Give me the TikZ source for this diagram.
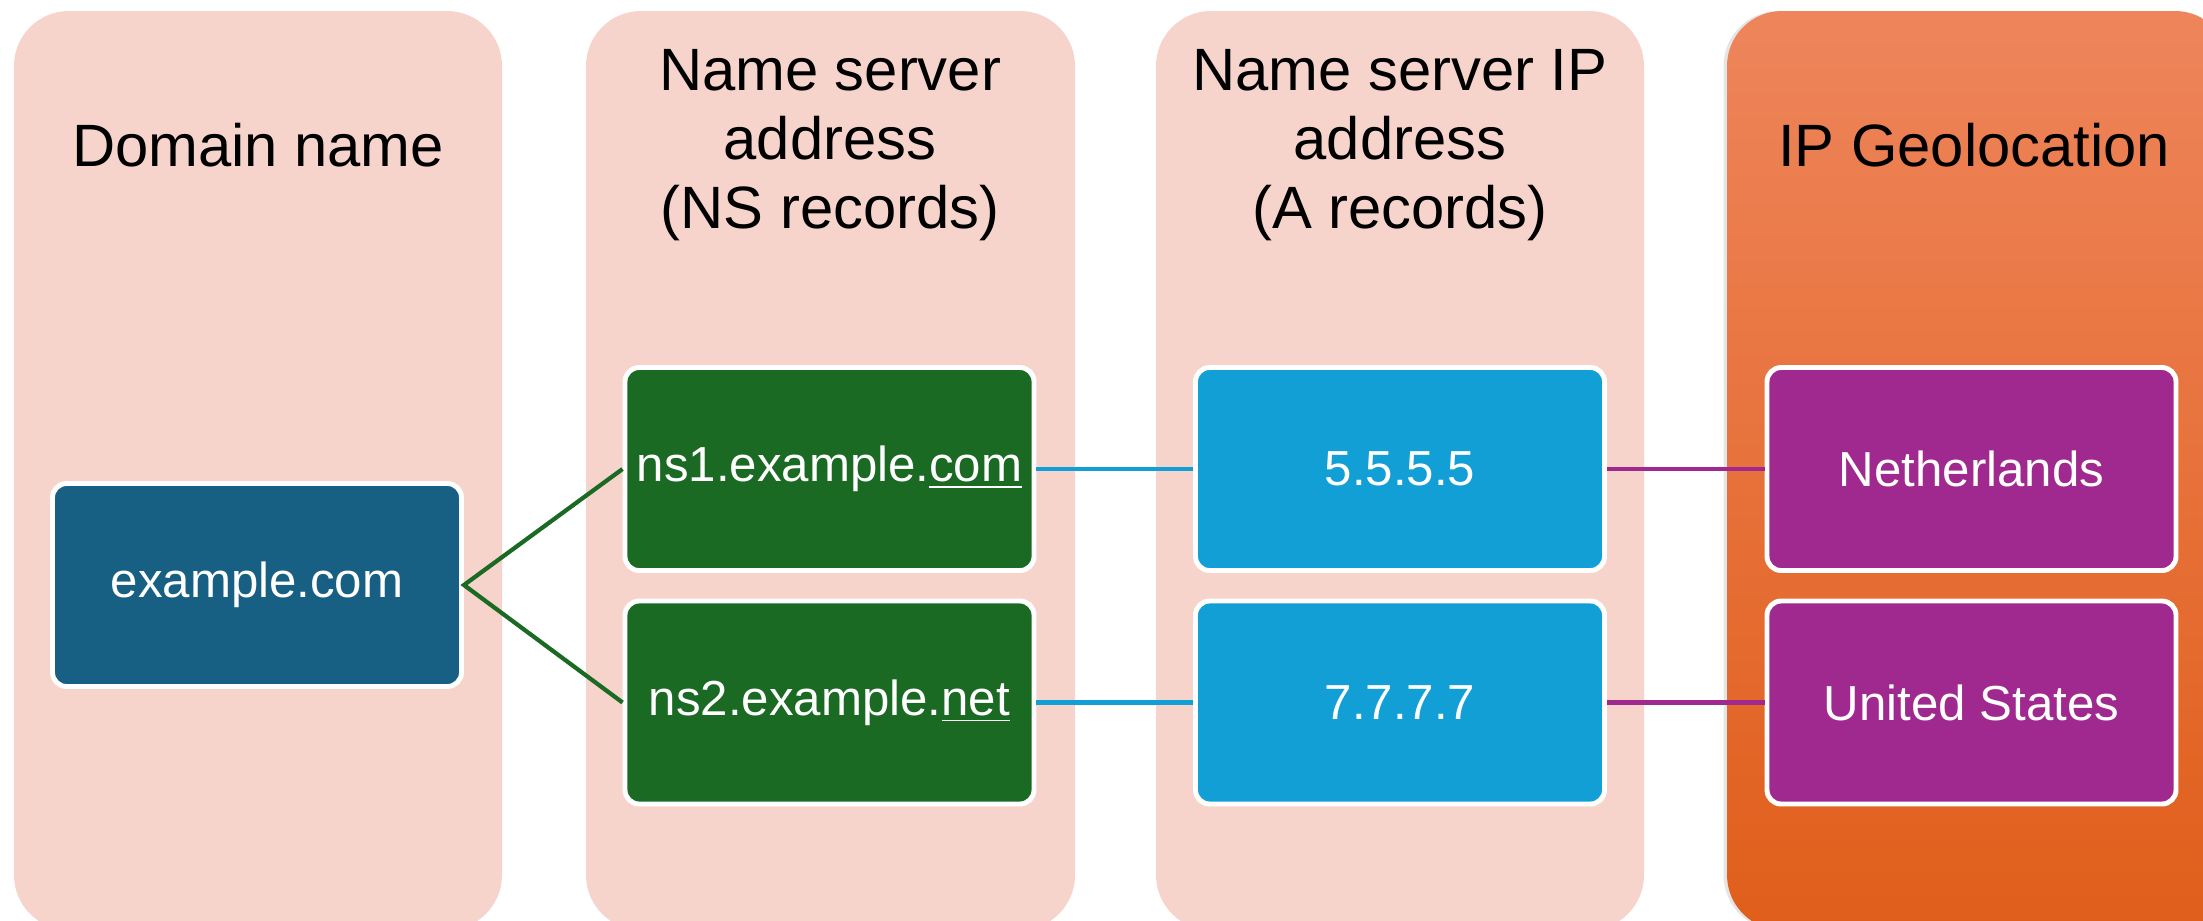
\documentclass[tikz,border=0pt]{standalone}
\usepackage{fontspec}
\setmainfont{Liberation Sans}
\usetikzlibrary{shadows}

\begin{document}
\begin{tikzpicture}[head/.style={font=\fontsize{17}{19.6}\selectfont, align=center, text=black},
  recbox/.style={draw=white, line width=1.4pt, rounded corners=4pt, minimum width=4.09cm, minimum height=2.03cm, text=white, font=\fontsize{14}{17}\selectfont},
  link/.style={line width=1.2pt}]
\definecolor{ColBg}{HTML}{F6D4CC}\definecolor{GeoTop}{HTML}{EE855B}\definecolor{GeoMid}{HTML}{F0712F}\definecolor{GeoBot}{HTML}{E05E1A}
\definecolor{DomBlue}{HTML}{176083}\definecolor{NsGreen}{HTML}{1B6A24}\definecolor{IpBlue}{HTML}{119FD6}\definecolor{GeoPurple}{HTML}{A0298F}
\clip (0,0) rectangle (22.03,-9.2);
\fill[white] (0,0) rectangle (22.03,-9.2);
% columns
\fill[ColBg, rounded corners=.55cm] (.14,-.11) rectangle (5.02,-9.3);
\fill[ColBg, rounded corners=.55cm] (5.86,-.11) rectangle (10.75,-9.3);
\fill[ColBg, rounded corners=.55cm] (11.56,-.11) rectangle (16.44,-9.3);
\shade[top color=GeoTop, middle color=GeoMid, bottom color=GeoBot, rounded corners=.55cm, drop shadow={shadow xshift=-1pt, shadow yshift=0pt, opacity=.2}] (17.27,-.11) rectangle (22.3,-9.3);
\node[head] (hdom) at (2.58,-1.45) {Domain name};
\node[head] (hns) at (8.3,-1.45) {Name server\\address\\(NS records)};
\node[head] (hip) at (14,-1.45) {Name server IP\\address\\(A records)};
\node[head] (hgeo) at (19.74,-1.45) {IP Geolocation};
% boxes
\node[recbox, fill=DomBlue] (dom) at (2.57,-5.85) {example.com};
\node[recbox, fill=NsGreen] (ns1) at (8.295,-4.69) {ns1.example.\underline{com}};
\node[recbox, fill=NsGreen] (ns2) at (8.295,-7.025) {ns2.example.\underline{net}};
\node[recbox, fill=IpBlue] (ip1) at (14,-4.69) {5.5.5.5};
\node[recbox, fill=IpBlue] (ip2) at (14,-7.025) {7.7.7.7};
\node[recbox, fill=GeoPurple] (geo1) at (19.715,-4.69) {Netherlands};
\node[recbox, fill=GeoPurple] (geo2) at (19.715,-7.025) {United States};
% links
\draw[link, NsGreen] (ns1.west) -- (dom.east) -- (ns2.west);
\draw[link, IpBlue] (ns1) -- (ip1); \draw[link, IpBlue] (ns2) -- (ip2);
\draw[link, GeoPurple] (ip1) -- (geo1); \draw[link, GeoPurple] (ip2) -- (geo2);
\end{tikzpicture}
\end{document}
